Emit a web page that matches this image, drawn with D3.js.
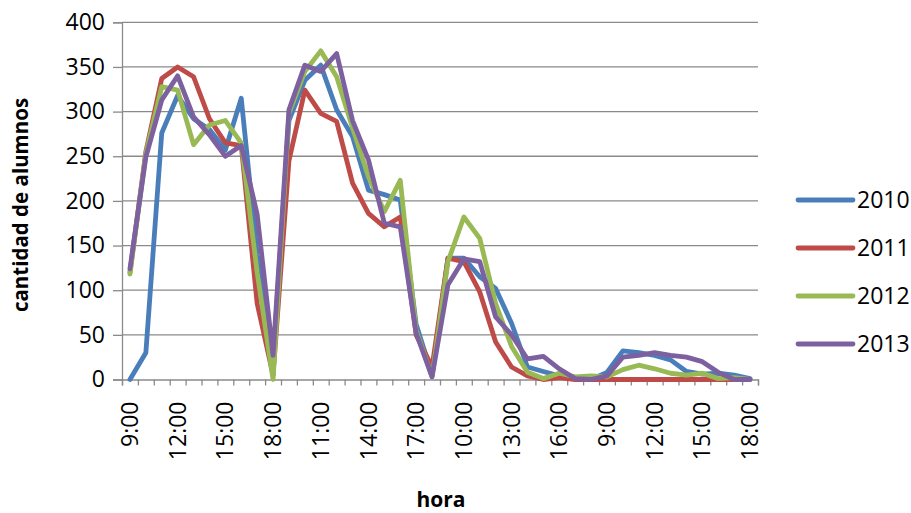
<!DOCTYPE html>
<html>
<head>
<meta charset="utf-8">
<script src="https://cdn.jsdelivr.net/npm/d3@7"></script>
<style>
  body { margin: 0; background: #fff; }
  svg text { font-family: "Open Sans", Lato, sans-serif; fill: #000; }
</style>
</head>
<body>
<div id="chart"></div>
<script>
var svgWidth = 911;
var svgHeight = 513;

// hours of one day, repeated for the four days on the category axis
var horas = ["9:00", "10:00", "11:00", "12:00", "13:00", "14:00", "15:00", "16:00", "17:00", "18:00"];
var dias = [1, 2, 3, 4];
var yTicks = [0, 50, 100, 150, 200, 250, 300, 350, 400];
var years = ["2010", "2011", "2012", "2013"];

var serie2010 = [0, 30, 276, 318, 292, 280, 257, 315, 140, 20,
                 290, 335, 352, 302, 272, 212, 207, 201, 62, 5,
                 136, 136, 115, 102, 63, 14, 9, 4, 1, 0,
                 8, 32, 30, 27, 22, 9, 6, 7, 5, 1];
var serie2011 = [120, 255, 337, 350, 339, 292, 265, 262, 85, 5,
                 245, 324, 298, 289, 220, 186, 171, 182, 50, 14,
                 136, 132, 98, 42, 14, 4, 0, 2, 0, 0,
                 0, 0, 0, 0, 0, 0, 0, 0, 0, 0];
var serie2012 = [118, 253, 328, 324, 263, 285, 290, 265, 120, 0,
                 298, 345, 368, 339, 282, 227, 188, 223, 55, 3,
                 132, 182, 158, 85, 37, 8, 1, 7, 3, 4,
                 3, 11, 16, 12, 7, 5, 7, 1, 2, 0];
var serie2013 = [124, 249, 313, 340, 294, 274, 250, 262, 185, 27,
                 302, 352, 345, 365, 290, 246, 175, 171, 52, 3,
                 106, 135, 132, 70, 50, 23, 26, 12, 1, 0,
                 4, 25, 27, 30, 27, 25, 20, 8, 0, 0];

var colors = ["#4A7EBB", "#BE4B48", "#98B954", "#7D60A0"];
var series = [serie2010, serie2011, serie2012, serie2013];

var categories = [];
dias.forEach(function(d) {
    horas.forEach(function(h) { categories.push(h); });
});

var margin = { top: 22.3, right: 153, bottom: 133.5, left: 122 };
var width = svgWidth - margin.left - margin.right;
var height = svgHeight - margin.top - margin.bottom;

var svg = d3.select("#chart")
    .append("svg")
    .attr("width", svgWidth)
    .attr("height", svgHeight);

var chartGroup = svg.append("g")
    .attr("transform", `translate(${margin.left}, ${margin.top})`);

var xBand = d3.scaleBand()
    .domain(d3.range(categories.length))
    .range([0, width])
    .padding(0);

var xEdges = d3.scaleLinear()
    .domain([0, categories.length])
    .range([0, width]);

var yLinearScale = d3.scaleLinear()
    .domain([0, 400])
    .range([height, 0]);

var gridColor = "#8a8a8a";

// horizontal gridlines
chartGroup.append("g")
    .selectAll("line")
    .data(yTicks.slice(1))
    .enter()
    .append("line")
    .attr("x1", 0)
    .attr("x2", width)
    .attr("y1", d => yLinearScale(d))
    .attr("y2", d => yLinearScale(d))
    .attr("stroke", gridColor)
    .attr("stroke-width", 1.3);

// y axis
var leftAxis = d3.axisLeft(yLinearScale)
    .tickValues(yTicks)
    .tickSize(9)
    .tickPadding(8);
var yAxisG = chartGroup.append("g").call(leftAxis);
yAxisG.select(".domain").attr("stroke", gridColor).attr("stroke-width", 1.3);
yAxisG.selectAll(".tick line").attr("stroke", gridColor).attr("stroke-width", 1.3);
yAxisG.selectAll("text")
    .attr("font-size", "23px")
    .style("font-family", "'Open Sans', Lato, sans-serif")
    .attr("fill", "#000");

// x axis: tick marks at category edges
var edgeAxis = d3.axisBottom(xEdges)
    .tickValues(d3.range(categories.length + 1))
    .tickSize(6)
    .tickFormat("");
var xAxisG = chartGroup.append("g")
    .attr("transform", `translate(0, ${height})`)
    .call(edgeAxis);
xAxisG.select(".domain").attr("stroke", gridColor).attr("stroke-width", 1.3);
xAxisG.selectAll(".tick line").attr("stroke", gridColor).attr("stroke-width", 1.3);

// x axis labels every third hour, rotated
var labelAxis = d3.axisBottom(xBand)
    .tickSize(0)
    .tickFormat(function(i) { return i % 3 === 0 ? categories[i] : ""; });
var labelG = chartGroup.append("g")
    .attr("transform", `translate(0, ${height})`)
    .call(labelAxis);
labelG.select(".domain").remove();
labelG.selectAll("text")
    .attr("font-size", "23px")
    .style("font-family", "'Open Sans', Lato, sans-serif")
    .attr("fill", "#000")
    .attr("text-anchor", "end")
    .attr("x", -22)
    .attr("y", 0)
    .attr("dy", "0.35em")
    .attr("transform", "rotate(-90)");

// lines
var line = d3.line()
    .x((d, i) => xBand(i) + xBand.bandwidth() / 2)
    .y(d => yLinearScale(d));

chartGroup.selectAll(".serie")
    .data(series)
    .enter()
    .append("path")
    .attr("class", "serie")
    .attr("d", d => line(d))
    .attr("fill", "none")
    .attr("stroke", (d, i) => colors[i])
    .attr("stroke-width", 4.8)
    .attr("stroke-linejoin", "round")
    .attr("stroke-linecap", "round");

// legend
var legend = svg.append("g")
    .selectAll("g")
    .data(years)
    .enter()
    .append("g")
    .attr("transform", (d, i) => `translate(798, ${200 + i * 48})`);

legend.append("line")
    .attr("x1", 0)
    .attr("x2", 55)
    .attr("stroke", (d, i) => colors[i])
    .attr("stroke-width", 4.8)
    .attr("stroke-linecap", "round");

legend.append("text")
    .attr("x", 59)
    .attr("dy", "0.35em")
    .attr("font-size", "23px")
    .text(d => d);

// axis titles
svg.append("text")
    .attr("transform", "translate(28, 205) rotate(-90)")
    .attr("text-anchor", "middle")
    .attr("font-size", "20.5px")
    .attr("font-weight", "bold")
    .text("cantidad de alumnos");

svg.append("text")
    .attr("x", 441)
    .attr("y", 507)
    .attr("text-anchor", "middle")
    .attr("font-size", "21px")
    .attr("font-weight", "bold")
    .text("hora");
</script>
</body>
</html>
